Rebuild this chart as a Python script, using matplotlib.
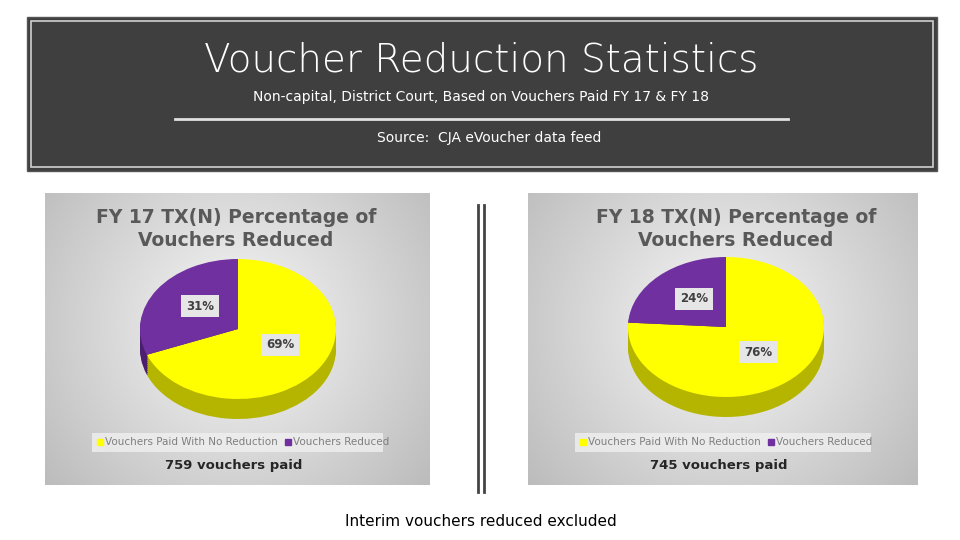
import matplotlib
matplotlib.use("Agg")
import matplotlib.pyplot as plt
import numpy as np
from matplotlib.patches import Rectangle

title = "Voucher Reduction Statistics"
subtitle = "Non-capital, District Court, Based on Vouchers Paid FY 17 & FY 18"
source = "Source:  CJA eVoucher data feed"
footer = "Interim vouchers reduced excluded"
categories = ["Vouchers Paid With No Reduction", "Vouchers Reduced"]
chart_titles = ["FY 17 TX(N) Percentage of\nVouchers Reduced", "FY 18 TX(N) Percentage of\nVouchers Reduced"]
fy17 = [69, 31]
fy18 = [76, 24]
paid = ["759 vouchers paid", "745 vouchers paid"]

W, H = 960, 540
fig = plt.figure(figsize=(9.6, 5.4), dpi=100)
bg = fig.add_axes([0, 0, 1, 1]); bg.set_xlim(0, W); bg.set_ylim(H, 0); bg.axis("off")

bg.add_patch(Rectangle((27, 17), 910, 154, facecolor="#3f3f3f", edgecolor="#555555", lw=1))
bg.add_patch(Rectangle((31, 21), 902, 146, facecolor="none", edgecolor="#d0d0d0", lw=1.2))
bg.text(481, 60, title, color="white", fontsize=28, ha="center", va="center", fontweight="light")
bg.text(481, 97, subtitle, color="white", fontsize=10, ha="center", va="center")
bg.plot([175, 788], [119, 119], color="#e0e0e0", lw=2)
bg.text(489, 138, source, color="white", fontsize=10, ha="center", va="center")
bg.plot([478, 478], [205, 492], color="#444444", lw=2)
bg.plot([484, 484], [205, 492], color="#444444", lw=2)
bg.text(481, 521, footer, fontsize=11, ha="center", va="center", color="black")

top = fig.add_axes([0, 0, 1, 1], zorder=10); top.set_xlim(0, W); top.set_ylim(H, 0); top.axis("off")

cols = ["#ffff00", "#7030a0"]
dark = ["#b5b500", "#4b1f6e"]

def panel(x0, y0, w, h, vals, ttl, tx, pd, cx, cy, lab_pos):
    grad = np.linspace(0, 1, 100)
    xx = np.abs(np.linspace(-1, 1, 200))
    img = 0.97 - 0.18 * (np.sqrt(xx[None, :] ** 2 + ((grad[:, None] - 0.45) * 1.5) ** 2))
    bg.imshow(np.dstack([img] * 3).clip(0, 1), extent=(x0, x0 + w, y0 + h, y0), aspect="auto", zorder=0)
    bg.text(tx, y0 + 36, ttl, fontsize=13.5, fontweight="bold", color="#595959",
            ha="center", va="center", linespacing=1.25)
    rx, ry = 98, 70
    dep = 20
    ax = fig.add_axes([(cx - rx) / W, 1 - (cy + ry + dep) / H, 2 * rx / W, (2 * ry + dep) / H])
    for d in np.linspace(dep / ry, 0, 12):
        c = dark if d > 0 else cols
        ax.pie(vals, colors=c, startangle=90, counterclock=False, center=(0, -d),
               radius=1, wedgeprops=dict(linewidth=0))
    ax.set_aspect("auto"); ax.axis("off")
    ax.set_xlim(-1, 1); ax.set_ylim(-1 - dep / ry, 1)
    for (lx, ly), v in zip(lab_pos, vals):
        top.text(lx, ly, f"{v}%", fontsize=8.5, fontweight="bold", color="#404040", ha="center", va="center",
                 bbox=dict(boxstyle="square,pad=0.4", fc="#e6e6e6", ec="none"))
    bg.add_patch(Rectangle((x0 + 47, y0 + 240), w - 94, 19, facecolor="#f0f0f0", edgecolor="none", alpha=0.8))
    lx = x0 + 52
    for i, c in enumerate(categories):
        bg.add_patch(Rectangle((lx, y0 + 246), 6, 6, color=cols[i]))
        bg.text(lx + 8, y0 + 249, c, fontsize=7.5, color="#7f7f7f", va="center")
        lx += 188
    bg.text(x0 + w / 2 - 4, y0 + 273, pd, fontsize=9.5, fontweight="bold", color="#262626", ha="center", va="center")

panel(45, 193, 385, 292, fy17, chart_titles[0], 236, paid[0], 238, 329, [(280, 345), (200, 306)])
panel(528, 193, 390, 292, fy18, chart_titles[1], 736, paid[1], 726, 327, [(758, 352), (694, 299)])

fig.savefig("out.png", dpi=100)
